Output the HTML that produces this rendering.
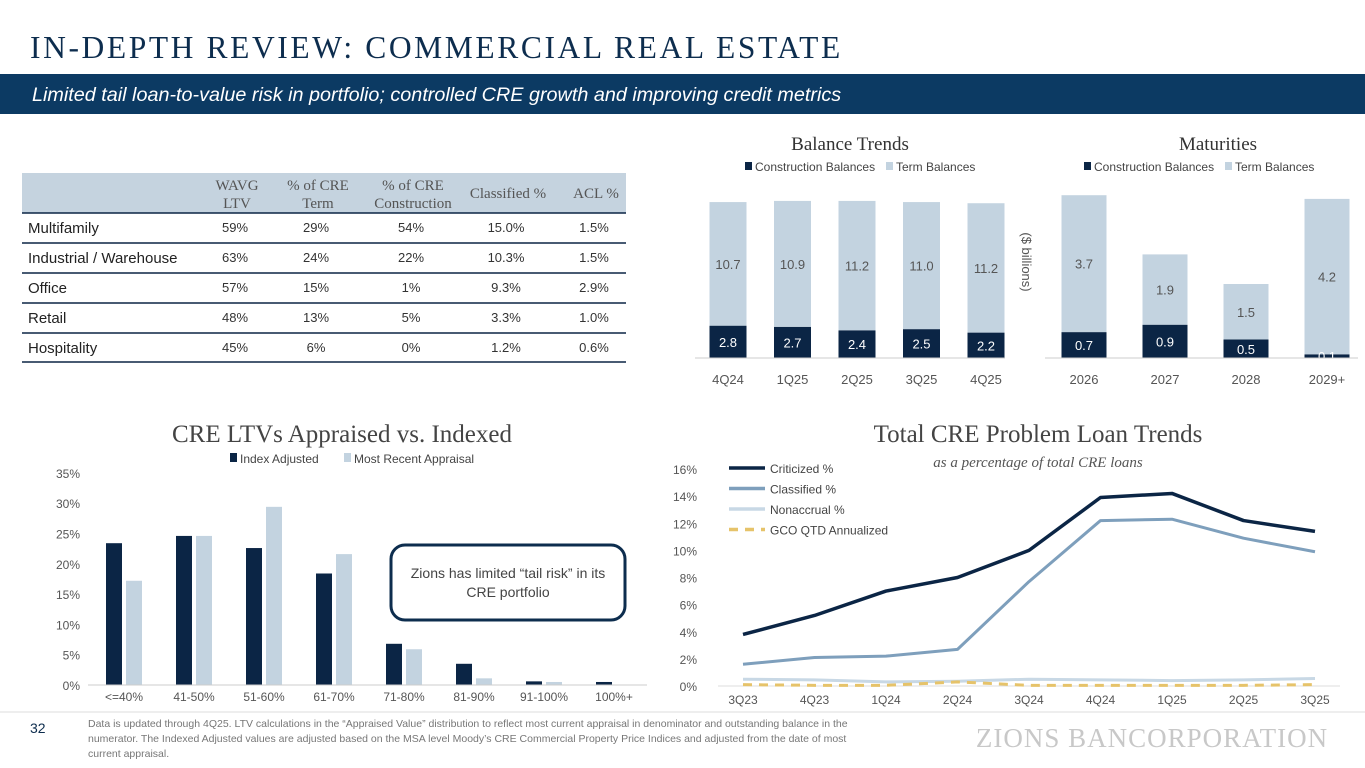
<!DOCTYPE html>
<html><head><meta charset="utf-8"><style>
body{margin:0;width:1365px;height:768px;overflow:hidden;background:#fff;font-family:"Liberation Sans",sans-serif}
svg{display:block}
.serif{font-family:"Liberation Serif",serif}
</style></head><body>
<svg id="s" width="1365" height="768" viewBox="0 0 1365 768">
<text x="30" y="58" class="serif" font-size="31.5" fill="#0d2d4e" letter-spacing="2.6">IN-DEPTH REVIEW: COMMERCIAL REAL ESTATE</text>
<rect x="0" y="74" width="1365" height="40" fill="#0c3a63"/>
<text x="32" y="101" font-size="19.8" font-style="italic" fill="#fff">Limited tail loan-to-value risk in portfolio; controlled CRE growth and improving credit metrics</text>

<g id="table"></g>

<text x="850" y="150" text-anchor="middle" class="serif" font-size="19" fill="#333">Balance Trends</text>
<text x="1218" y="150" text-anchor="middle" class="serif" font-size="19" fill="#333">Maturities</text>
<g id="bal"></g>
<g id="mat"></g>
<text transform="translate(1022,262) rotate(90)" text-anchor="middle" font-size="13" fill="#555">($ billions)</text>

<text x="342" y="442" text-anchor="middle" class="serif" font-size="25" fill="#444">CRE LTVs Appraised vs. Indexed</text>
<g id="ltv"></g>
<rect x="391" y="545" width="234" height="75" rx="14" fill="#fff" stroke="#0d2d4e" stroke-width="3"/>
<text x="508" y="578" text-anchor="middle" font-size="14" fill="#444"><tspan x="508">Zions has limited “tail risk” in its</tspan><tspan x="508" dy="19">CRE portfolio</tspan></text>

<text x="1038" y="442" text-anchor="middle" class="serif" font-size="25" fill="#444">Total CRE Problem Loan Trends</text>
<text x="1038" y="467" text-anchor="middle" class="serif" font-size="15" font-style="italic" fill="#555">as a percentage of total CRE loans</text>
<g id="line"></g>

<line x1="0" y1="712" x2="1365" y2="712" stroke="#ddd"/>
<text x="30" y="733" font-size="14" fill="#0d2d4e">32</text>
<text font-size="10.5" fill="#777"><tspan x="88" y="727">Data is updated through 4Q25. LTV calculations in the “Appraised Value” distribution to reflect most current appraisal in denominator and outstanding balance in the</tspan><tspan x="88" y="742">numerator. The Indexed Adjusted values are adjusted based on the MSA level Moody’s CRE Commercial Property Price Indices and adjusted from the date of most</tspan><tspan x="88" y="757">current appraisal.</tspan></text>
<text x="1152" y="747" text-anchor="middle" class="serif" font-size="27" fill="#c8c8c8" letter-spacing="1">ZIONS BANCORPORATION</text>
</svg>
<script>
const NS="http://www.w3.org/2000/svg";
function mk(p,t,a,txt){const e=document.createElementNS(NS,t);for(const k in a)e.setAttribute(k,a[k]);if(txt!==undefined)e.textContent=txt;p.appendChild(e);return e;}
const DARK="#0b2545",LIGHT="#c3d3e0";

// table
const tblHeaders=[["WAVG","LTV"],["% of CRE","Term"],["% of CRE","Construction"],["Classified %"],["ACL %"]];
const tblRows=["Multifamily","Industrial / Warehouse","Office","Retail","Hospitality"];
const tblData=[["59%","29%","54%","15.0%","1.5%"],["63%","24%","22%","10.3%","1.5%"],["57%","15%","1%","9.3%","2.9%"],["48%","13%","5%","3.3%","1.0%"],["45%","6%","0%","1.2%","0.6%"]];
const colX=[237,318,413,508,596];
const T=document.getElementById('table');
let r=mk(T,'rect',{x:22,y:173,width:604,height:40,fill:"#c5d3df"});

tblHeaders.forEach((h,i)=>{const t=mk(T,'text',{x:colX[i],y:h.length>1?190:198,'text-anchor':'middle','font-size':15,fill:"#555",class:"serif"});

h.forEach((s,j)=>mk(t,'tspan',{x:colX[i],dy:j?18:0},s));});
tblRows.forEach((n,i)=>{const y=213+i*30;
const l=mk(T,'line',{x1:22,x2:626,y1:y,y2:y,stroke:"#0b2545","stroke-width":1.5});

const t=mk(T,'text',{x:28,y:y+20,'font-size':15,fill:"#222"},n);

tblData[i].forEach((v,j)=>{const c=mk(T,'text',{x:colX[j]-2,y:y+19,'text-anchor':'middle','font-size':13,fill:"#333"},v);
});});
const bl=mk(T,'line',{x1:22,x2:626,y1:362,y2:362,stroke:"#0b2545","stroke-width":1.5});


// balance
const balCats=["4Q24","1Q25","2Q25","3Q25","4Q25"];
const balCon=[2.8,2.7,2.4,2.5,2.2];
const balTerm=[10.7,10.9,11.2,11.0,11.2];
const matCats=["2026","2027","2028","2029+"];
const matCon=[0.7,0.9,0.5,0.1];
const matTerm=[3.7,1.9,1.5,4.2];
function stack(g,cats,con,term,x0,step,bw,scale,axL,axR,lx){
 const base=358,ys=v=>base-v*scale;
 mk(g,'rect',{x:lx,y:162,width:7,height:8,fill:DARK});
 const a=mk(g,'text',{x:lx+10,y:171,'font-size':12,fill:"#444"},"Construction Balances");
 mk(g,'rect',{x:lx+141,y:162,width:7,height:8,fill:LIGHT});
 const b=mk(g,'text',{x:lx+151,y:171,'font-size':12,fill:"#444"},"Term Balances");
 cats.forEach((c,i)=>{const cx=x0+i*step;
  const r1=mk(g,'rect',{x:cx-bw/2,y:ys(con[i]),width:bw,height:con[i]*scale,fill:DARK});
  
  const r2=mk(g,'rect',{x:cx-bw/2,y:ys(con[i]+term[i]),width:bw,height:term[i]*scale,fill:LIGHT});
  
  const t1=mk(g,'text',{x:cx,y:ys(con[i]/2)+5,'text-anchor':'middle','font-size':13,fill:"#fff"},con[i].toFixed(1));
  
  const t2=mk(g,'text',{x:cx,y:ys(con[i]+term[i]/2)+5,'text-anchor':'middle','font-size':13,fill:"#555"},term[i].toFixed(1));
  
  const t3=mk(g,'text',{x:cx,y:384,'text-anchor':'middle','font-size':13,fill:"#555"},c);
  });
 const ax=mk(g,'line',{x1:axL,x2:axR,y1:base,y2:base,stroke:"#ccc"});
}
stack(document.getElementById('bal'),balCats,balCon,balTerm,728,64.5,37,11.55,695,1005,745);
stack(document.getElementById('mat'),matCats,matCon,matTerm,1084,81,45,37,1045,1358,1084);

// LTV
const ltvCats=["<=40%","41-50%","51-60%","61-70%","71-80%","81-90%","91-100%","100%+"];
const ltvIndex=[23.4,24.6,22.6,18.4,6.8,3.5,0.6,0.5];
const ltvAppr=[17.2,24.6,29.4,21.6,5.9,1.1,0.5,0];
const ltvTicks=[0,5,10,15,20,25,30,35];
(function(){const g=document.getElementById('ltv');const b=685,s=6.06,y=v=>b-v*s;
 ltvTicks.forEach(t=>{const e=mk(g,'text',{x:80,y:y(t)+5,'text-anchor':'end','font-size':12,fill:"#555"},t+"%");});
 mk(g,'rect',{x:230,y:453,width:7,height:9,fill:DARK});
 const l1=mk(g,'text',{x:240,y:463,'font-size':12,fill:"#444"},"Index Adjusted");
 mk(g,'rect',{x:344,y:453,width:7,height:9,fill:LIGHT});
 const l2=mk(g,'text',{x:354,y:463,'font-size':12,fill:"#444"},"Most Recent Appraisal");
 ltvCats.forEach((c,i)=>{const cx=124+i*70;
  const a=mk(g,'rect',{x:cx-18,y:y(ltvIndex[i]),width:16,height:ltvIndex[i]*s,fill:DARK});
  const bb=mk(g,'rect',{x:cx+2,y:y(ltvAppr[i]),width:16,height:ltvAppr[i]*s,fill:LIGHT});
  const t=mk(g,'text',{x:cx,y:701,'text-anchor':'middle','font-size':12,fill:"#555"},c);});
 const ax=mk(g,'line',{x1:88,x2:647,y1:b,y2:b,stroke:"#ccc"});
})();

// Lines
const qCats=["3Q23","4Q23","1Q24","2Q24","3Q24","4Q24","1Q25","2Q25","3Q25"];
const criticized=[3.8,5.2,7.0,8.0,10.0,13.9,14.2,12.2,11.4];
const classified=[1.6,2.1,2.2,2.7,7.7,12.2,12.3,10.9,9.9];
const nonaccrual=[0.5,0.45,0.3,0.35,0.5,0.45,0.4,0.45,0.55];
const gco=[0.1,0.05,0.05,0.3,0.05,0.05,0.05,0.05,0.1];
const qTicks=[0,2,4,6,8,10,12,14,16];
(function(){const g=document.getElementById('line');const b=686,s=13.56,y=v=>b-v*s,x=i=>743+i*71.5;
 qTicks.forEach(t=>{const e=mk(g,'text',{x:697,y:y(t)+5,'text-anchor':'end','font-size':12,fill:"#555"},t+"%");});
 const ax=mk(g,'line',{x1:718,x2:1340,y1:b,y2:b,stroke:"#ddd"});
 qCats.forEach((c,i)=>{const t=mk(g,'text',{x:x(i),y:704,'text-anchor':'middle','font-size':12,fill:"#555"},c);});
 const ser=[[criticized,"#0b2545",3.5,"","Criticized %","line-criticized"],[classified,"#7e9fbc",3,"","Classified %","line-classified"],[nonaccrual,"#c8d8e5",3,"","Nonaccrual %","line-nonaccrual"],[gco,"#e6c36a",3,"9,7","GCO QTD Annualized","line-gco"]];
 ser.forEach((sr,k)=>{const d=sr[0].map((v,i)=>(i?"L":"M")+x(i)+","+y(v)).join("");
  const p=mk(g,'path',{d:d,fill:"none",stroke:sr[1],'stroke-width':sr[2],'stroke-dasharray':sr[3]||"none",'stroke-linejoin':'round'});
  
  const ly=468+k*20.5;
  mk(g,'line',{x1:729,x2:765,y1:ly,y2:ly,stroke:sr[1],'stroke-width':3.5,'stroke-dasharray':sr[3]||"none"});
  const t=mk(g,'text',{x:770,y:ly+5,'font-size':12,fill:"#444"},sr[4]);});
})();
</script>
</body></html>
